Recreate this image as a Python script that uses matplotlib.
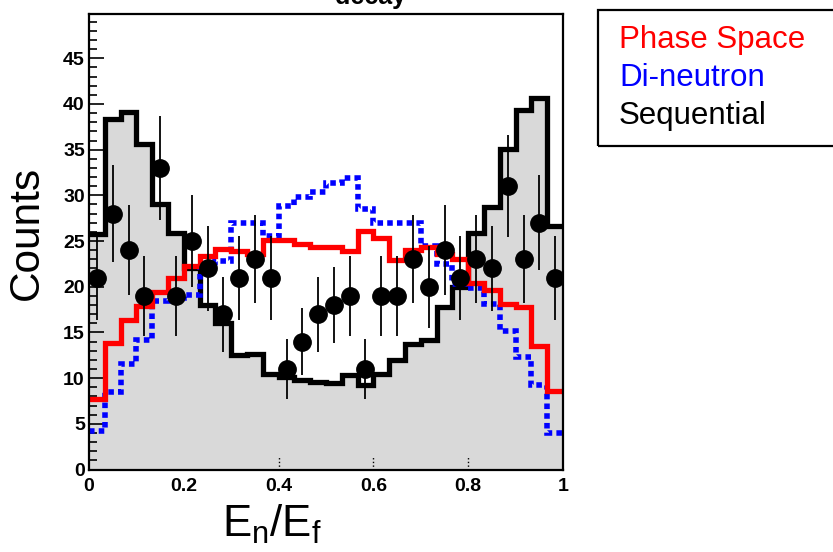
import matplotlib
matplotlib.use("Agg")
import matplotlib.pyplot as plt
import numpy as np
from matplotlib.patches import Rectangle

plt.rcParams['font.family'] = ['Liberation Sans', 'DejaVu Sans']
plt.rcParams['mathtext.fontset'] = 'custom'
plt.rcParams['mathtext.rm'] = 'Liberation Sans'
plt.rcParams['mathtext.it'] = 'Liberation Sans'

# ---------------- data (30 bins on 0..1) ----------------
edges = np.linspace(0, 1, 31)

sequential = [25.8, 38.4, 39.1, 35.6, 29.0, 25.9, 22.0, 18.0, 16.0, 12.5,
              12.6, 10.4, 10.1, 9.8, 9.6, 9.5, 10.3, 9.2, 10.4, 12.0,
              13.7, 14.2, 17.8, 20.0, 25.9, 28.7, 35.1, 39.3, 40.6, 26.7]

phase_space = [7.7, 13.8, 16.4, 17.9, 19.4, 21.0, 22.3, 23.4, 24.1, 23.9,
               23.6, 25.1, 25.1, 24.7, 24.3, 24.3, 23.9, 26.1, 25.3, 22.9,
               24.0, 24.4, 23.6, 23.0, 20.4, 19.6, 18.1, 17.8, 13.5, 8.6]

di_neutron = [4.2, 8.5, 11.5, 14.2, 18.4, 18.8, 19.1, 22.2, 22.8, 27.0,
              27.0, 25.6, 28.8, 29.8, 30.4, 31.3, 31.9, 28.5, 27.0, 27.0,
              27.0, 24.5, 22.5, 20.3, 19.9, 18.1, 15.2, 12.3, 9.3, 4.0]

counts = [21, 28, 24, 19, 33, 19, 25, 22, 17, 21, 23, 21, 11, 14, 17,
          18, 19, 11, 19, 19, 23, 20, 24, 21, 23, 22, 31, 23, 27, 21]
errors = [4.6, 5.3, 4.9, 4.4, 5.7, 4.4, 5.0, 4.7, 4.1, 4.6, 4.8, 4.6, 3.3, 3.7, 4.1,
          4.2, 4.4, 3.3, 4.4, 4.4, 4.8, 4.5, 4.9, 4.6, 4.8, 4.7, 5.6, 4.8, 5.2, 4.6]

legend_labels = ["Phase Space", "Di-neutron", "Sequential"]
legend_colors = ["#ff0000", "#0000ff", "#000000"]

centers = (edges[:-1] + edges[1:]) / 2

# ---------------- figure ----------------
W, H = 833, 552
fig = plt.figure(figsize=(W / 100, H / 100), dpi=100)
ax = fig.add_axes([89 / W, 1 - 469.5 / H, (563 - 89) / W, (469.5 - 13.5) / H])

ax.stairs(sequential, edges, fill=True, color="#d9d9d9", zorder=1)
ax.stairs(sequential, edges, baseline=None, color="black", lw=3.8, zorder=2)
ax.stairs(di_neutron, edges, baseline=None, color="#0000ff", lw=4.0,
          linestyle=(0, (1.0, 0.75)), zorder=3)
ax.stairs(phase_space, edges, baseline=None, color="#ff0000", lw=3.8, zorder=4)
ax.errorbar(centers, counts, yerr=errors, fmt="o", color="black", ms=12.5,
            elinewidth=1.3, capsize=0, zorder=5)

ax.set_xlim(0, 1)
ax.set_ylim(0, 49.9)
ax.set_xticks([0, 0.2, 0.4, 0.6, 0.8, 1])
ax.set_xticklabels(["0", "0.2", "0.4", "0.6", "0.8", "1"])
ax.set_yticks(np.arange(0, 46, 5))
ax.set_yticks(np.arange(0, 50, 1), minor=True)
ax.tick_params(axis="y", which="major", direction="in", length=11, width=1.2,
               labelsize=14, pad=3)
ax.tick_params(axis="y", which="minor", direction="in", length=6, width=1.2)
ax.tick_params(axis="x", which="both", length=0, labelsize=14, pad=6)
for lab in ax.get_xticklabels() + ax.get_yticklabels():
    lab.set_fontweight("bold")
# dotted ticks along the bottom
ax.vlines([0.4, 0.6, 0.8], 0, 0.03, transform=ax.get_xaxis_transform(),
          colors="black", linestyles=":", lw=1, zorder=6)
for s in ax.spines.values():
    s.set_linewidth(1.6)
    s.set_zorder(7)

fig.text(27 / W, 1 - 233 / H, "Counts", rotation=90, ha="center", va="center",
         fontsize=30.5)
fig.text(272 / W, 1 - 537 / H, r"$\mathregular{E_n/E_f}$", ha="center",
         va="baseline", fontsize=31.5)
fig.text(335 / W, 1 - 4 / H, "decay", ha="left", va="baseline",
         fontsize=18, fontweight="bold")

# legend box (runs past the right edge)
fig.patches.append(Rectangle((598 / W, 1 - 146 / H), 260 / W, 136 / H,
                             transform=fig.transFigure, fill=False,
                             edgecolor="black", lw=1.6))
for i, (lab, col) in enumerate(zip(legend_labels, legend_colors)):
    fig.text(619 / W, 1 - (40 + 38 * i) / H, lab, color=col, ha="left",
             va="center", fontsize=22.5)

fig.savefig("out.png", dpi=100)
